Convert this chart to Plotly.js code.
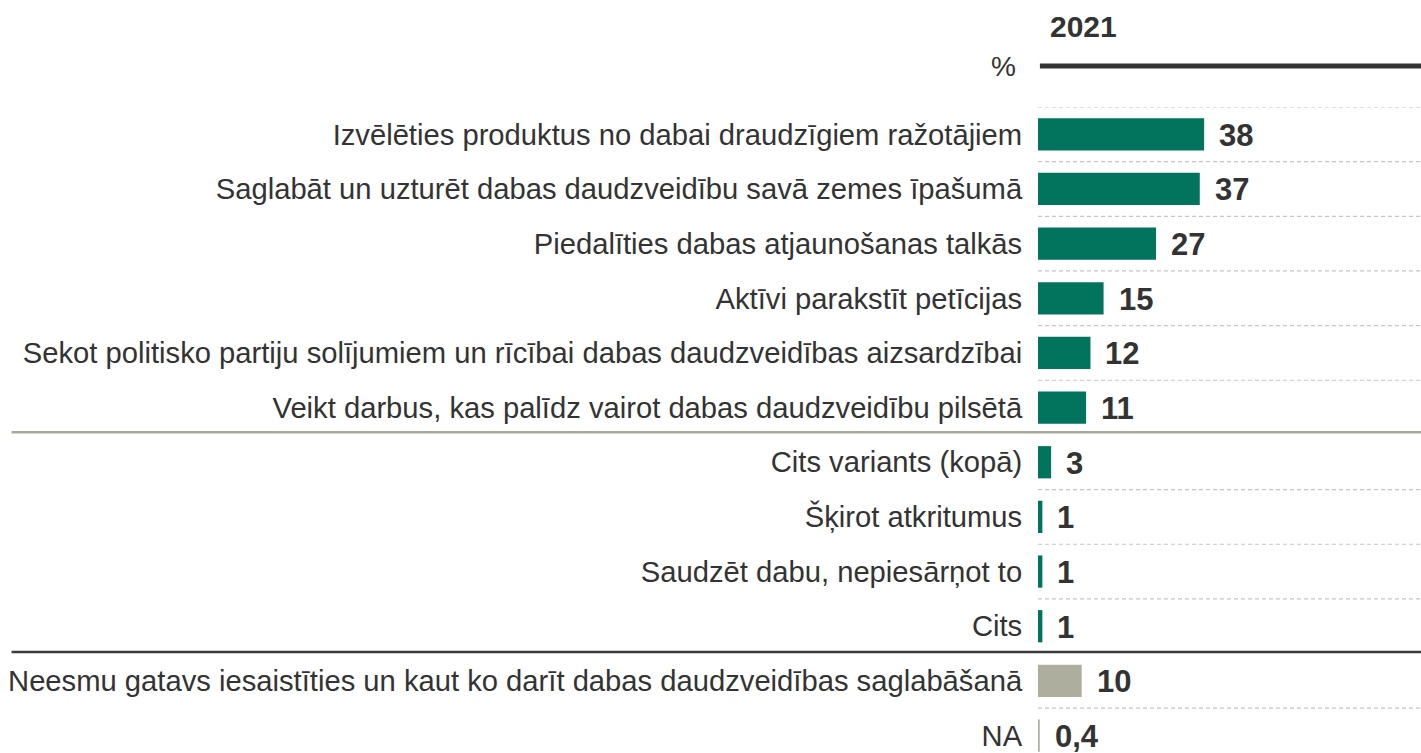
<!DOCTYPE html>
<html>
<head>
<meta charset="utf-8">
<script src="https://cdn.plot.ly/plotly-3.0.1.min.js"></script>
<style>html,body{margin:0;padding:0;background:#fff;}#chart{width:1421px;height:753px;}</style>
</head>
<body>
<div id="chart"></div>
<script>
const categories = [
  "Izvēlēties produktus no dabai draudzīgiem ražotājiem",
  "Saglabāt un uzturēt dabas daudzveidību savā zemes īpašumā",
  "Piedalīties dabas atjaunošanas talkās",
  "Aktīvi parakstīt petīcijas",
  "Sekot politisko partiju solījumiem un rīcībai dabas daudzveidības aizsardzībai",
  "Veikt darbus, kas palīdz vairot dabas daudzveidību pilsētā",
  "Cits variants (kopā)",
  "Šķirot atkritumus",
  "Saudzēt dabu, nepiesārņot to",
  "Cits",
  "Neesmu gatavs iesaistīties un kaut ko darīt dabas daudzveidības saglabāšanā",
  "NA"
];
const values = [38, 37, 27, 15, 12, 11, 3, 1, 1, 1, 10, 0.4];
const groups = ["g","g","g","g","g","g","g","g","g","g","n","n"];
const yearLabel = "2021";
const unitLabel = "%";

const green = "#02735c";
const grey = "#aeae9f";
const colors = groups.map(g => g === "g" ? green : grey);
const labels = values.map(v => String(v).replace(".", ","));

const trace = {
  type: "bar",
  orientation: "h",
  x: values,
  y: categories,
  marker: {color: colors, line: {width: 0}},
  width: 0.59,
  hoverinfo: "none"
};

const annotations = values.map((v, i) => ({
  x: v, y: categories[i], xref: "x", yref: "y",
  text: labels[i], showarrow: false, xanchor: "left", yanchor: "middle",
  xshift: 13, yshift: -1,
  font: {family: "Liberation Sans, Arial, sans-serif", size: 31, color: "#333333", weight: "bold"}
}));
annotations.push({
  x: 0.12, y: 1.0, xref: "paper", yref: "paper", yshift: 81,
  text: "<b>" + yearLabel + "</b>", showarrow: false, xanchor: "center", yanchor: "middle",
  font: {family: "Liberation Sans, Arial, sans-serif", size: 30, color: "#333333"}
});
annotations.push({
  x: 0, y: 1.0, xref: "paper", yref: "paper", yshift: 41, xshift: -20,
  text: unitLabel, showarrow: false, xanchor: "right", yanchor: "middle",
  font: {family: "Liberation Sans, Arial, sans-serif", size: 28, color: "#333333"}
});

const shapes = [];
const dashedAt = [-0.5, 0.5, 1.5, 2.5, 3.5, 4.5, 6.5, 7.5, 8.5, 10.5];
dashedAt.forEach(yv => shapes.push({
  type: "line", xref: "paper", yref: "y", x0: 0, x1: 1, y0: yv, y1: yv,
  line: {color: "#c6c6c6", width: 1.2, dash: "4px,3px"}
}));
shapes.push({type: "line", xref: "paper", yref: "y", x0: -2.68, x1: 1, y0: 5.45, y1: 5.45,
  line: {color: "#a9a99a", width: 2.5}});
shapes.push({type: "line", xref: "paper", yref: "y", x0: -2.68, x1: 1, y0: 9.47, y1: 9.47,
  line: {color: "#3a3a3a", width: 2.5}});
shapes.push({type: "line", xref: "paper", yref: "paper", x0: 0.005, x1: 1,
  y0: 1 + 41 / 646, y1: 1 + 41 / 646, line: {color: "#333333", width: 5}});

const layout = {
  width: 1421, height: 753,
  margin: {l: 1038, r: 0, t: 107, b: 0, pad: 0},
  paper_bgcolor: "#ffffff", plot_bgcolor: "#ffffff",
  showlegend: false,
  xaxis: {range: [0, 87.6], visible: false, fixedrange: true},
  yaxis: {
    type: "category", range: [11.32, -0.5], showgrid: false, zeroline: false, showline: false,
    ticks: "outside", ticklen: 9, tickcolor: "rgba(0,0,0,0)",
    tickfont: {family: "Liberation Sans, Arial, sans-serif", size: 29.2, color: "#333333"},
    fixedrange: true
  },
  annotations: annotations,
  shapes: shapes
};

Plotly.newPlot("chart", [trace], layout, {displayModeBar: false, staticPlot: true});
</script>
</body>
</html>
